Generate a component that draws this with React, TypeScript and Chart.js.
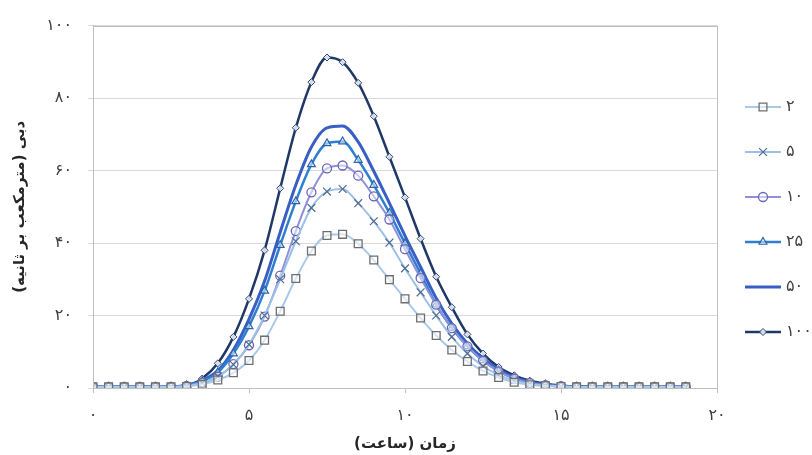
import React, { useEffect, useRef } from 'react';
import { Chart, registerables } from 'chart.js';
import { drawPoint } from 'chart.js/helpers';

Chart.register(...registerables);

// time (hours)
const hours = [0, 0.5, 1, 1.5, 2, 2.5, 3, 3.5, 4, 4.5, 5, 5.5, 6, 6.5, 7, 7.5, 8, 8.5, 9, 9.5, 10, 10.5, 11, 11.5, 12, 12.5, 13, 13.5, 14, 14.5, 15, 15.5, 16, 16.5, 17, 17.5, 18, 18.5, 19];

// discharge (m3/s) for return periods
const q2 = [0.3, 0.3, 0.3, 0.3, 0.3, 0.3, 0.4, 1.0, 2.2, 4.2, 7.6, 13.2, 21.2, 30.2, 37.8, 42.1, 42.4, 39.8, 35.3, 29.9, 24.6, 19.3, 14.5, 10.5, 7.3, 4.7, 2.9, 1.6, 0.9, 0.6, 0.4, 0.3, 0.3, 0.3, 0.3, 0.3, 0.3, 0.3, 0.3];
const q5 = [0.3, 0.3, 0.3, 0.3, 0.3, 0.3, 0.5, 1.4, 3.2, 6.5, 12.0, 20.0, 30.0, 40.5, 49.7, 54.2, 54.9, 51.0, 46.0, 40.1, 33.0, 26.4, 20.0, 14.1, 9.5, 6.0, 3.6, 2.0, 1.1, 0.6, 0.4, 0.3, 0.3, 0.3, 0.3, 0.3, 0.3, 0.3, 0.3];
const q10 = [0.3, 0.3, 0.3, 0.3, 0.3, 0.3, 0.6, 1.5, 3.1, 6.6, 11.8, 19.7, 31.0, 43.3, 54.0, 60.6, 61.4, 58.6, 52.9, 46.5, 38.3, 30.3, 23.0, 16.5, 11.5, 7.5, 4.6, 2.6, 1.4, 0.8, 0.5, 0.3, 0.3, 0.3, 0.3, 0.3, 0.3, 0.3, 0.3];
const q25 = [0.3, 0.3, 0.3, 0.3, 0.3, 0.3, 0.7, 1.9, 4.3, 9.5, 17.0, 26.8, 39.4, 51.5, 61.7, 67.5, 68.0, 62.9, 56.0, 48.3, 39.9, 31.6, 23.0, 16.6, 11.5, 7.6, 4.7, 2.7, 1.5, 0.9, 0.5, 0.3, 0.3, 0.3, 0.3, 0.3, 0.3, 0.3, 0.3];
const q50 = [0.3, 0.3, 0.3, 0.3, 0.3, 0.3, 0.8, 2.1, 4.8, 10.5, 19.0, 29.5, 43.0, 56.0, 66.5, 71.8, 72.3, 67.9, 59.8, 51.0, 42.0, 33.4, 24.8, 17.8, 12.3, 8.2, 5.1, 2.9, 1.6, 0.9, 0.5, 0.3, 0.3, 0.3, 0.3, 0.3, 0.3, 0.3, 0.3];
const q100 = [0.3, 0.3, 0.3, 0.3, 0.3, 0.3, 0.6, 2.6, 6.8, 14.1, 24.6, 38.0, 55.1, 71.8, 84.4, 91.2, 89.9, 84.2, 75.0, 63.8, 52.6, 41.2, 30.7, 22.3, 14.8, 9.5, 5.8, 3.5, 2.0, 1.2, 0.7, 0.4, 0.3, 0.3, 0.3, 0.3, 0.3, 0.3, 0.3];

const seriesNames = ['2', '5', '10', '25', '50', '100'];
const xTicks = [0, 5, 10, 15, 20];
const yTicks = [0, 20, 40, 60, 80, 100];

const xTitle = 'زمان (ساعت)';
const yTitle = 'دبی (مترمکعب بر ثانیه)';

const FA_DIGITS = '۰۱۲۳۴۵۶۷۸۹';
const fa = (v: number | string) => String(v).replace(/\d/g, (d) => FA_DIGITS[Number(d)]);

const FONT = "'DejaVu Sans', sans-serif";

const styles = [
  { line: '#a9c9ea', width: 2, point: 'rect', radius: 5.5, pBorder: '#6e6e6e', pFill: 'rgba(255,255,255,0.55)', pWidth: 1.3 },
  { line: '#9cc0e6', width: 2, point: 'crossRot', radius: 5.5, pBorder: '#506a92', pFill: 'rgba(0,0,0,0)', pWidth: 1.2 },
  { line: '#8f8fda', width: 2, point: 'circle', radius: 4.5, pBorder: '#6666b8', pFill: 'rgba(255,255,255,0.5)', pWidth: 1.3 },
  { line: '#2d7fd2', width: 2.5, point: 'triangle', radius: 4.5, pBorder: '#2a64a8', pFill: 'rgba(255,255,255,0.5)', pWidth: 1.2 },
  { line: '#3a5fc4', width: 3, point: false, radius: 0, pBorder: '#3a5fc4', pFill: '#3a5fc4', pWidth: 0 },
  { line: '#1f3866', width: 2.5, point: 'rectRot', radius: 3.5, pBorder: '#2a4470', pFill: 'rgba(230,236,246,0.9)', pWidth: 1 },
];

const allSeries = [q2, q5, q10, q25, q50, q100];

const framePlugin = {
  id: 'frame',
  afterDatasetsDraw(chart: any) {
    const { ctx, chartArea } = chart;
    ctx.save();
    ctx.strokeStyle = '#bfbfbf';
    ctx.lineWidth = 1;
    ctx.strokeRect(Math.round(chartArea.left) + 0.5, Math.round(chartArea.top) + 0.5, Math.round(chartArea.right - chartArea.left), Math.round(chartArea.bottom - chartArea.top));
    ctx.restore();
  },
};

const legendPlugin = {
  id: 'sideLegend',
  afterDraw(chart: any) {
    const { ctx } = chart;
    const x0 = 745;
    const x1 = 781;
    const yStart = 107;
    const step = 45;
    ctx.save();
    chart.data.datasets.forEach((ds: any, i: number) => {
      const st = styles[i];
      const y = yStart + i * step;
      ctx.strokeStyle = st.line;
      ctx.lineWidth = st.width;
      ctx.beginPath();
      ctx.moveTo(x0, y);
      ctx.lineTo(x1, y);
      ctx.stroke();
      if (st.point) {
        ctx.strokeStyle = st.pBorder;
        ctx.fillStyle = st.pFill;
        ctx.lineWidth = st.pWidth;
        drawPoint(ctx, { pointStyle: st.point, radius: st.radius, rotation: 0, borderWidth: st.pWidth } as any, (x0 + x1) / 2, y);
      }
      ctx.fillStyle = '#404040';
      ctx.font = `16px ${FONT}`;
      ctx.textAlign = 'left';
      ctx.textBaseline = 'middle';
      ctx.fillText(fa(ds.label), x1 + 5, y);
    });
    ctx.restore();
  },
};

export default function App() {
  const ref = useRef<HTMLCanvasElement | null>(null);

  useEffect(() => {
    if (!ref.current) return;
    const chart = new Chart(ref.current, {
      type: 'line',
      data: {
        datasets: allSeries.map((s, i) => ({
          label: seriesNames[i],
          data: s.map((v, j) => ({ x: hours[j], y: v })),
          borderColor: styles[i].line,
          borderWidth: styles[i].width,
          pointStyle: styles[i].point as any,
          pointRadius: styles[i].radius,
          pointBorderColor: styles[i].pBorder,
          pointBackgroundColor: styles[i].pFill,
          pointBorderWidth: styles[i].pWidth,
          cubicInterpolationMode: 'monotone' as const,
          fill: false,
        })),
      },
      options: {
        responsive: false,
        animation: false,
        events: [],
        layout: { padding: { left: 0, top: 23, right: 95, bottom: 0 } },
        plugins: {
          legend: { display: false },
          tooltip: { enabled: false },
        },
        scales: {
          x: {
            type: 'linear',
            min: 0,
            max: 20,
            afterFit: (s: any) => { s.height = 67; },
            afterBuildTicks: (s: any) => { s.ticks = xTicks.map((v) => ({ value: v })); },
            ticks: {
              callback: (v: any) => fa(v),
              color: '#404040',
              font: { family: FONT, size: 16 },
              padding: 13,
              maxRotation: 0,
            },
            grid: { drawOnChartArea: false, drawTicks: true, tickLength: 5, color: '#bfbfbf' },
            border: { color: '#bfbfbf' },
            title: {
              display: true,
              text: xTitle,
              color: '#262626',
              font: { family: FONT, size: 15, weight: 'bold' },
              padding: { top: 0, bottom: 2 },
            },
          },
          y: {
            type: 'linear',
            min: 0,
            max: 100,
            afterFit: (s: any) => { s.width = 93; },
            afterBuildTicks: (s: any) => { s.ticks = yTicks.map((v) => ({ value: v })); },
            ticks: {
              callback: (v: any) => fa(v),
              color: '#404040',
              font: { family: FONT, size: 16 },
              padding: 16,
            },
            grid: { color: '#d9d9d9', tickLength: 5, drawTicks: true },
            border: { color: '#bfbfbf' },
            title: {
              display: true,
              text: yTitle,
              color: '#262626',
              font: { family: FONT, size: 15, weight: 'bold' },
              padding: { top: 11, bottom: 0 },
            },
          },
        },
      },
      plugins: [framePlugin, legendPlugin],
    });
    return () => chart.destroy();
  }, []);

  return (
    <div style={{ position: 'absolute', left: 0, top: 0, width: 812, height: 455, background: '#ffffff' }}>
      <canvas ref={ref} width={812} height={455} style={{ display: 'block' }} />
    </div>
  );
}
